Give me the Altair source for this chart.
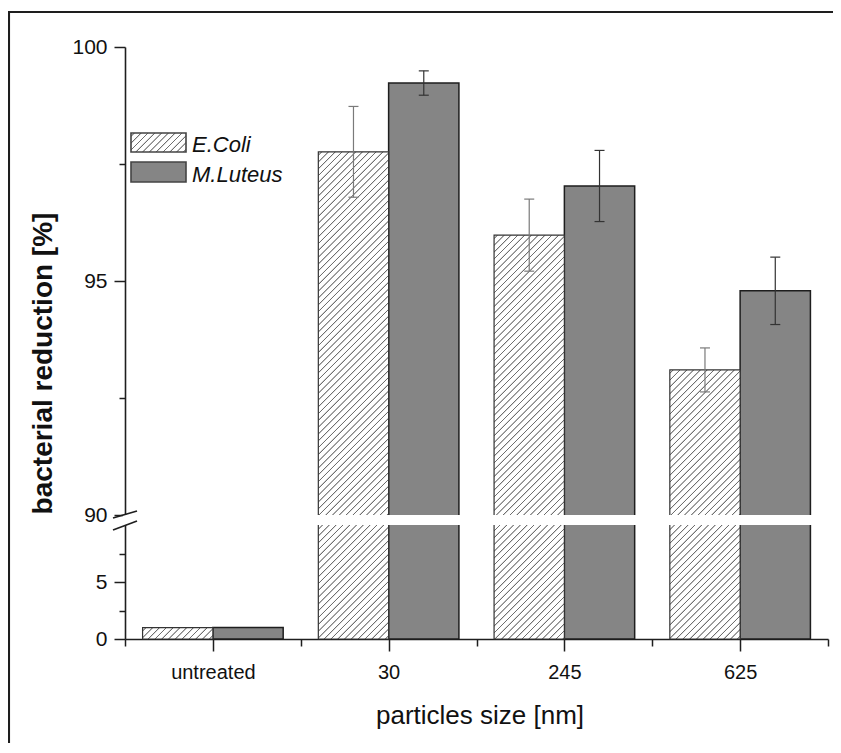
import numpy as np
import pandas as pd
import altair as alt

FONT = "Liberation Sans"

# ---- data ----
categories = ["untreated", "30", "245", "625"]
series = ["E.Coli", "M.Luteus"]
ecoli = [1.0, 97.76, 95.98, 93.10]
ecoli_err = [0.0, 0.97, 0.77, 0.47]
mluteus = [1.0, 99.23, 97.03, 94.79]
mluteus_err = [0.0, 0.26, 0.76, 0.72]

y_tick_values = [0, 2.5, 5, 7.5, 90, 92.5, 95, 97.5, 100]
y_label_values = [0, 5, 90, 95, 100]

# ---- layout ----
W, H = 703, 592
Y_DOMAIN = [0, 10, 90, 100]
Y_RANGE = [H, 478, 468, 0]          # broken (piecewise) axis
OFFS = {"E.Coli": (0.1, 0.5), "M.Luteus": (0.5, 0.9)}

yscale = alt.Scale(domain=Y_DOMAIN, range=Y_RANGE, zero=False, nice=False)
xscale = alt.Scale(domain=[0, len(categories)], zero=False, nice=False)

rows = []
for i, c in enumerate(categories):
    for s, vals, errs in [(series[0], ecoli, ecoli_err), (series[1], mluteus, mluteus_err)]:
        a, b = OFFS[s]
        v, e = vals[i], errs[i]
        rows.append(dict(cat=c, idx=i, series=s, value=v, err=e,
                         x0=i + a, x1=i + b, xc=i + (a + b) / 2,
                         lo=v - e, hi=v + e))
df = pd.DataFrame(rows)
one = pd.DataFrame({"k": [0]})


def ypx(v):
    return float(np.interp(v, Y_DOMAIN, Y_RANGE))


def hatch(w, h, p=6.8, col="#6e6e6e"):
    L = w + h
    mu = L / (w * w + h * h)
    stops = [{"offset": 0.0, "color": "#ffffff"}]
    c = p / 2
    while c - 1.3 < L:
        for dc, cc in [(-1.0, "#ffffff"), (-0.25, col), (0.25, col), (1.0, "#ffffff")]:
            o = min(max((c + dc) / L, 0.0), 1.0)
            stops.append({"offset": round(o, 6), "color": cc})
        c += p
    stops.append({"offset": 1.0, "color": "#ffffff"})
    return {"gradient": "linear", "x1": 0, "y1": 0,
            "x2": round(mu * w, 6), "y2": round(mu * h, 6), "stops": stops}


cat_js = "[" + ",".join("'" + c + "'" for c in categories) + "]"
ylab_js = "[" + ",".join(str(v) for v in y_label_values) + "]"

xaxis = alt.Axis(
    values=[k / 2 for k in range(2 * len(categories) + 1)],
    title="particles size [nm]", titleFont=FONT, titleFontSize=26,
    titleFontWeight="normal", titleColor="#111111",
    titleX=354.5, titleY=84.5, titleAlign="center", titleBaseline="alphabetic",
    labelExpr=f"datum.value % 1 == 0.5 ? {cat_js}[floor(datum.value)] : ''",
    labelFont=FONT, labelFontSize=20, labelColor="#111111", labelPadding=11,
    labelFlush=False, labelOverlap=False, labelBound=False,
    tickSize={"condition": {"test": "datum.value % 1 == 0.5", "value": 12}, "value": 7},
    tickColor="#1e1e1e", tickWidth=1.5, domainColor="#1e1e1e", domainWidth=1.6,
    grid=False, zindex=0,
)
yaxis = alt.Axis(
    values=y_tick_values,
    title="bacterial reduction [%]", titleFont=FONT, titleFontSize=28,
    titleFontWeight="bold", titleColor="#111111",
    titleX=-74, titleY=316, titleAngle=-90, titleAlign="center",
    titleBaseline="alphabetic",
    labelExpr=f"indexof({ylab_js}, datum.value) >= 0 ? format(datum.value, 'd') : ''",
    labelFont=FONT, labelFontSize=21, labelColor="#111111", labelPadding=7,
    labelOverlap=False, labelBound=False,
    tickSize={"condition": {"test": f"indexof({ylab_js}, datum.value) >= 0", "value": 11}, "value": 6},
    tickColor="#1e1e1e", tickWidth=1.5, domainColor="#1e1e1e", domainWidth=1.6,
    grid=False, zindex=0,
)

layers = []

# M.Luteus bars
layers.append(
    alt.Chart(df).transform_filter(alt.datum.series == series[1])
    .mark_rect(fill="#858585", stroke="#1e1e1e", strokeWidth=1.5)
    .encode(x=alt.X("x0:Q", scale=xscale, axis=xaxis), x2="x1:Q",
            y=alt.Y("value:Q", scale=yscale, axis=yaxis), y2=alt.datum(0))
)

# E.Coli hatched bars (one gradient per bar size)
bw = (OFFS[series[0]][1] - OFFS[series[0]][0]) * W / len(categories)
for i in range(len(categories)):
    h = ypx(0) - ypx(ecoli[i])
    layers.append(
        alt.Chart(df).transform_filter((alt.datum.series == series[0]) & (alt.datum.idx == i))
        .mark_rect(fill=hatch(bw, h), stroke="#333333", strokeWidth=1.2)
        .encode(x=alt.X("x0:Q", scale=xscale, axis=xaxis), x2="x1:Q",
                y=alt.Y("value:Q", scale=yscale, axis=yaxis), y2=alt.datum(0))
    )

# white gap of the broken axis
layers.append(
    alt.Chart(one).mark_rect(fill="white")
    .encode(x=alt.value(-2), x2=alt.value(W),
            y=alt.YDatum(10, type="quantitative", scale=yscale, axis=yaxis),
            y2=alt.datum(90))
)
# break marks
for v, o1, o2 in [(90, 3, -4), (10, 5, -4)]:
    layers.append(
        alt.Chart(one).mark_rule(color="#1e1e1e", strokeWidth=1.7, yOffset=o1, y2Offset=o2)
        .encode(x=alt.value(-12), x2=alt.value(12),
                y=alt.YDatum(v, type="quantitative", scale=yscale, axis=yaxis),
                y2=alt.datum(v))
    )

# error bars
for s, col in [(series[0], "#7a7a7a"), (series[1], "#333333")]:
    base = alt.Chart(df).transform_filter((alt.datum.series == s) & (alt.datum.err > 0))
    layers.append(
        base.mark_rule(color=col, strokeWidth=1.2)
        .encode(x=alt.X("xc:Q", scale=xscale, axis=xaxis),
                y=alt.Y("lo:Q", scale=yscale, axis=yaxis), y2="hi:Q")
    )
    for f in ["lo", "hi"]:
        layers.append(
            base.mark_rule(color=col, strokeWidth=1.2, xOffset=-5, x2Offset=5)
            .encode(x=alt.X("xc:Q", scale=xscale, axis=xaxis), x2="xc:Q",
                    y=alt.Y(f + ":Q", scale=yscale, axis=yaxis), y2=f + ":Q")
        )

# legend
layers.append(
    alt.Chart(one).mark_rect(fill=hatch(55, 19), stroke="#444444", strokeWidth=1.6)
    .encode(x=alt.value(6), x2=alt.value(61), y=alt.value(86), y2=alt.value(105))
)
layers.append(
    alt.Chart(one).mark_rect(fill="#858585", stroke="#444444", strokeWidth=1.6)
    .encode(x=alt.value(6), x2=alt.value(61), y=alt.value(115), y2=alt.value(135))
)
for s, yy in [(series[0], 104.7), (series[1], 134.7)]:
    layers.append(
        alt.Chart(one).mark_text(text=s, align="left", baseline="alphabetic",
                                 font=FONT, fontSize=22, fontStyle="italic", color="#111111")
        .encode(x=alt.value(67), y=alt.value(yy))
    )

# outer frame (only top and left edges fall inside the picture)
layers.append(
    alt.Chart(one).mark_rect(fill=None, stroke="#1e1e1e", strokeWidth=2.1)
    .encode(x=alt.value(-116), x2=alt.value(W + 60),
            y=alt.value(-35), y2=alt.value(H + 200))
)

chart = (
    alt.layer(*layers)
    .properties(width=W, height=H,
                padding={"left": 117, "top": 39, "right": 5, "bottom": 104},
                autosize=alt.AutoSizeParams(type="none"))
    .configure(font=FONT)
    .configure_view(stroke=None)
)

chart.save("out.html", embed_options={"renderer": "svg", "actions": False})
